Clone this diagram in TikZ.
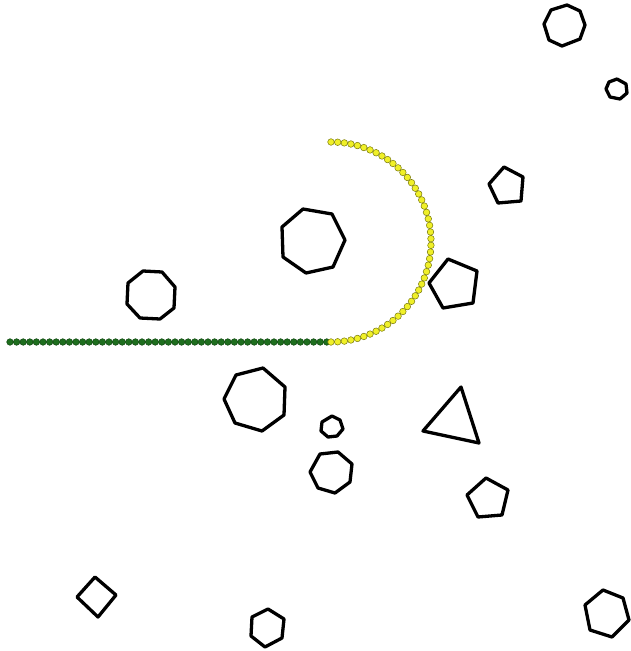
\documentclass[tikz,border=0pt]{standalone}
\usetikzlibrary{calc}
\definecolor{dotgreen}{RGB}{30,110,30}
\definecolor{dotgreenedge}{RGB}{15,70,15}
\definecolor{dotyellow}{RGB}{240,240,40}
\definecolor{dotyellowedge}{RGB}{120,120,10}
\tikzset{
  poly/.style={draw=black,line width=3.3pt,line join=round},
  gdot/.style={fill=dotgreen,draw=dotgreenedge,line width=0.5pt},
  ydot/.style={fill=dotyellow,draw=dotyellowedge,line width=0.5pt}
}
\begin{document}
\begin{tikzpicture}[x=1pt,y=-1pt]
\useasboundingbox (0,0) rectangle (631,651);
% green chain
\foreach \i in {0,...,48}{
  \fill[gdot] ({10+\i*6.6},342) circle (3.3);
}
% yellow arc
\foreach \i in {0,...,47}{
  \pgfmathsetmacro{\a}{90-\i*180/47}
  \fill[ydot] ({331+100*cos(\a)},{242+100*sin(\a)}) circle (3.3);
}
% polygons
\draw[poly] (567,5) -- (580,11) -- (585,25) -- (580,39) -- (562,46) -- (549,40) -- (544,24) -- (551,10) -- cycle;
\draw[poly] (617,79) -- (626,84) -- (627,93) -- (620,99) -- (610,97) -- (606,89) -- (609,82) -- cycle;
\draw[poly] (504,167) -- (523,177) -- (521,201) -- (498,203) -- (489,184) -- cycle;
\draw[poly] (448,259) -- (477,271) -- (473,303) -- (443,308) -- (429,283) -- cycle;
\draw[poly] (303,209) -- (332,214) -- (345,240) -- (333,267) -- (306,273) -- (283,257) -- (282,227) -- cycle;
\draw[poly] (143,271) -- (162,272) -- (175,287) -- (174,308) -- (160,319) -- (140,318) -- (127,304) -- (128,283) -- cycle;
\draw[poly] (263,368) -- (285,387) -- (284,415) -- (262,431) -- (235,423) -- (224,399) -- (236,375) -- cycle;
\draw[poly] (332,416) -- (340,420) -- (343,429) -- (337,436) -- (328,437) -- (321,431) -- (322,422) -- cycle;
\draw[poly] (320,454) -- (338,452) -- (352,464) -- (350,482) -- (335,493) -- (318,488) -- (310,472) -- cycle;
\draw[poly] (461,387) -- (479,443) -- (423,431) -- cycle;
\draw[poly] (486,478) -- (508,490) -- (502,515) -- (478,517) -- (467,495) -- cycle;
\draw[poly] (95,577) -- (116,595) -- (98,617) -- (77,597) -- cycle;
\draw[poly] (268,609) -- (284,619) -- (282,638) -- (265,647) -- (251,636) -- (252,617) -- cycle;
\draw[poly] (603,590) -- (623,598) -- (629,620) -- (612,637) -- (590,630) -- (585,605) -- cycle;
\end{tikzpicture}
\end{document}
